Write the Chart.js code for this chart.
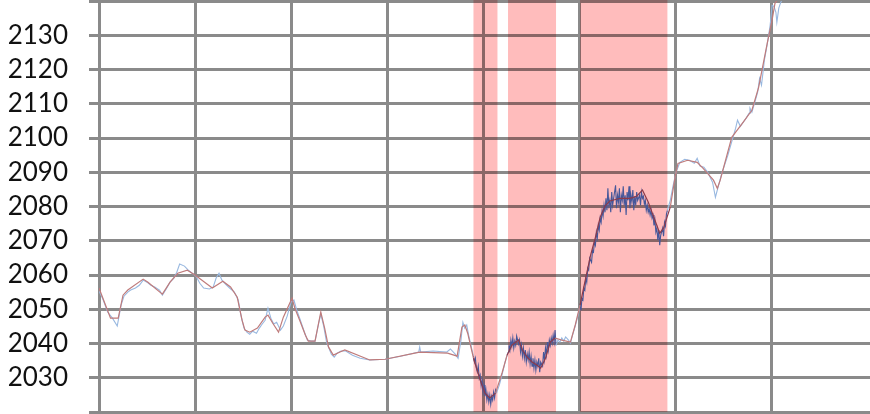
<!DOCTYPE html>
<html><head><meta charset="utf-8">
<script src="https://cdn.jsdelivr.net/npm/chart.js@4"></script>
<style>html,body{margin:0;padding:0;background:#fff;overflow:hidden}#wrap{width:870px;height:414px;position:relative}</style>
</head><body><div id="wrap"><canvas id="c" width="870" height="414"></canvas></div>
<script>
// y tick labels
const yTicks = [2030, 2040, 2050, 2060, 2070, 2080, 2090, 2100, 2110, 2120, 2130];
// x grid positions (time units)
const xTicks = [0, 100, 200, 300, 400, 500, 600, 700];

// smooth (red) series
const redX = [0,12,20,25,30,46,51,66,74,82,92,100,118,129,137,144,149,152,157,165,173,176,181,187,192,201,204,209,215,218,225,231,235,239,244,251,256,282,298,334,363,373,378,381,384,390,394,397,402,407,413,420,425,430,437,441,446,451,456,460,465,470,475,482,491,496,501,506,512,517,522,527,532,543,553,560,566,572,579,584,588,595,600,603,613,623,629,640,644,647,659,670,680,687,696,701,704,712,720];
const redY = [2056.2,2047.4,2047.4,2054.1,2055.6,2058.8,2057.9,2054.4,2057.9,2060.5,2061.4,2060.0,2056.2,2058.2,2056.5,2053.5,2046.8,2043.9,2043.3,2044.5,2047.7,2048.3,2045.9,2043.3,2047.7,2053.2,2050.3,2046.8,2042.4,2040.7,2040.7,2049.2,2044.5,2039.0,2036.6,2037.5,2038.1,2035.2,2035.4,2037.5,2037.2,2036.3,2044.8,2045.4,2043.0,2035.7,2032.2,2029.3,2025.5,2024.1,2025.5,2031.6,2036.6,2039.5,2041.0,2038.1,2036.0,2034.6,2033.7,2032.8,2035.7,2040.4,2041.6,2041.0,2040.4,2045.4,2051.2,2057.9,2065.8,2071.0,2076.9,2080.1,2081.6,2082.4,2082.4,2083.0,2084.8,2081.3,2076.0,2072.2,2073.7,2079.8,2088.6,2092.6,2093.5,2092.9,2091.2,2087.7,2085.3,2087.7,2100.2,2104.3,2108.1,2114.8,2127.7,2134.4,2139.3,2142.5,2146.0];

// noisy (blue) series
const blueX = [
0,4,9,14,19,23,26,30,33,38,42,46,50,54,58,63,66,70,74,78,81,84,89,93,97,101,105,109,115,119,122,125,128,132,136,141,145,148,151,154,157,160,164,167,170,173,176,179,182,185,189,192,196,200,203,206,209,214,217,221,225,229,231,234,237,242,245,248,252,257,264,272,282,298,314,333,334,335,348,362,366,371,374,377,379,381,383,385,389,
390,391,392,393,394,395,396,397,398,399,400,401,402,403,404,405,406,407,408,409,410,411,412,413,414,
417,420,423,426,
427,428,429,430,431,432,433,434,435,437,438,439,440,441,442,443,444,445,446,447,448,449,450,451,452,453,454,455,456,457,458,459,460,462,463,464,465,466,467,468,469,470,471,472,473,474,475,476,
478,480,482,484,486,489,491,493,496,499,
501,502,503,504,505,506,507,508,509,510,511,513,514,515,516,517,518,519,520,521,522,523,524,525,526,527,528,529,530,531,532,533,534,535,536,538,539,540,541,542,543,544,545,546,547,548,549,550,551,552,553,554,555,556,557,558,559,560,561,563,564,565,566,567,568,569,570,571,572,573,574,575,576,577,578,579,580,581,582,583,584,585,587,588,589,590,591,592,
595,598,601,605,610,615,620,623,626,630,634,639,642,645,649,655,660,663,665,668,671,674,677,678,680,683,686,688,690,693,696,699,701,703,705,706,708,710,713,716,720];
const blueY = [
2055.3,2053.0,2049.2,2047.4,2045.1,2051.2,2053.8,2055.0,2055.6,2056.2,2057.0,2058.5,2057.9,2057.0,2056.5,2055.6,2054.1,2055.9,2057.9,2059.1,2060.8,2063.2,2062.6,2061.4,2060.5,2059.7,2057.6,2056.2,2055.9,2056.5,2059.1,2060.5,2058.5,2057.3,2056.2,2055.0,2052.7,2048.0,2044.5,2043.3,2042.7,2043.6,2043.0,2044.5,2045.7,2046.8,2050.3,2047.4,2045.7,2046.2,2043.9,2045.1,2048.0,2052.1,2052.7,2049.7,2047.4,2043.3,2041.0,2040.7,2040.7,2046.2,2048.6,2045.1,2040.4,2036.9,2036.0,2037.2,2037.8,2037.8,2036.6,2035.7,2035.2,2035.4,2036.3,2037.5,2039.0,2037.5,2037.8,2037.5,2038.4,2036.9,2035.7,2041.0,2046.2,2044.5,2045.4,2042.4,2037.5,
2036.3,2034.6,2035.7,2032.8,2031.7,2033.4,2029.9,2030.8,2027.6,2029.3,2025.8,2027.9,2024.6,2026.4,2023.5,2025.2,2022.9,2024.9,2022.3,2024.6,2023.5,2025.8,2024.1,2026.4,2025.5,
2027.9,2031.1,2034.6,2037.5,
2039.5,2038.1,2041.0,2039.2,2041.6,2038.7,2040.7,2039.5,2042.2,2039.8,2041.0,2037.5,2039.5,2036.3,2038.7,2035.7,2038.1,2034.6,2036.9,2035.2,2037.5,2034.0,2036.3,2033.4,2035.7,2032.8,2035.2,2032.2,2034.6,2033.4,2035.7,2031.6,2034.6,2033.4,2037.5,2035.2,2038.7,2036.6,2040.4,2038.1,2041.0,2039.5,2041.6,2040.1,2042.4,2040.4,2043.9,2039.5,
2041.0,2040.4,2041.6,2040.7,2041.9,2041.0,2040.1,2042.2,2045.1,2048.3,
2051.2,2049.7,2053.2,2052.7,2056.2,2055.6,2059.1,2057.9,2062.0,2061.4,2064.9,
2063.7,2067.2,2066.7,2069.6,2068.7,2072.5,2070.8,2074.5,2073.1,2076.6,2075.4,2078.9,2077.2,2080.4,2078.3,2082.4,2078.9,2085.3,2080.4,2081.8,2078.3,2084.2,2080.4,2082.4,
2086.2,2079.5,2083.3,2081.3,2085.3,2078.3,2083.3,2081.8,2085.9,2080.4,2083.3,2077.5,2084.2,2081.8,2085.9,2079.5,2083.3,2081.3,2084.8,2078.9,2083.0,2080.4,2084.2,2081.8,
2083.3,2080.4,2084.2,2082.4,2083.0,2080.7,2081.8,2078.9,2080.4,2078.3,2079.5,2077.5,2078.9,2076.6,2077.5,2074.5,2076.0,2072.5,2073.7,2070.2,2073.1,2068.7,2071.6,
2073.7,2071.3,2075.4,2074.3,2077.8,2078.9,
2081.8,2086.2,2090.0,2092.9,2093.8,2093.5,2092.6,2094.1,2091.8,2091.5,2090.0,2087.1,2082.7,2085.9,2090.0,2095.0,2099.9,2102.8,2105.2,2103.4,2104.6,2105.8,2107.2,2108.7,2107.5,2110.4,2113.4,2117.4,2115.4,2122.7,2127.4,2132.9,2138.7,2138.4,2136.7,2133.8,2137.9,2139.6,2141.1,2143.1,2145.5];

// shaded periods
const bandStart = [390, 426, 501];
const bandEnd   = [415, 476, 592];

const GRID = '#8a8a8a';
const inBand = v => bandStart.some((s, i) => v >= s && v <= bandEnd[i]);
const mid = c => (c.p0.parsed.x + c.p1.parsed.x) / 2;

const bandPlugin = {
  id: 'bands',
  beforeDatasetsDraw(chart) {
    const { ctx, chartArea: a, scales: { x } } = chart;
    ctx.save();
    ctx.globalCompositeOperation = 'multiply';
    ctx.fillStyle = 'rgb(255,188,188)';
    bandStart.forEach((s, i) => {
      const x0 = x.getPixelForValue(s), x1 = x.getPixelForValue(bandEnd[i]);
      ctx.fillRect(x0, 0, x1 - x0, a.bottom);
    });
    ctx.restore();
  }
};

new Chart(document.getElementById('c'), {
  type: 'line',
  data: {
    datasets: [
      {
        data: redX.map((x, i) => ({ x, y: redY[i] })),
        borderColor: '#bf7b7b', borderWidth: 1.2, pointRadius: 0, tension: 0,
        segment: { borderColor: c => inBand(mid(c)) ? '#8c3a4a' : '#bf7b7b' }
      },
      {
        data: blueX.map((x, i) => ({ x, y: blueY[i] })),
        borderColor: '#98b8e0', borderWidth: 1.1, pointRadius: 0, tension: 0,
        segment: { borderColor: c => inBand(mid(c)) ? '#46579a' : '#98b8e0' }
      }
    ]
  },
  options: {
    responsive: false, animation: false, devicePixelRatio: 1,
    layout: { padding: { top: 1, bottom: 2, left: 0, right: 0 } },
    plugins: { legend: { display: false }, tooltip: { enabled: false } },
    scales: {
      x: {
        type: 'linear', min: 0, max: 803,
        afterBuildTicks: s => { s.ticks = xTicks.map(v => ({ value: v })); },
        ticks: { display: false, autoSkip: false },
        grid: { color: GRID, lineWidth: 3, drawTicks: false },
        border: { display: false }
      },
      y: {
        min: 2020, max: 2140,
        afterBuildTicks: s => { s.ticks = [2020, ...yTicks, 2140].map(v => ({ value: v })); },
        ticks: {
          autoSkip: false,
          callback: v => yTicks.includes(v) ? String(v) : '',
          font: { family: 'Lato', size: 26 }, color: '#111111', padding: 21
        },
        grid: { color: GRID, lineWidth: 3, tickLength: 10 },
        border: { display: true, color: GRID, width: 3 },
        afterFit: s => { s.width = 99; s.paddingTop = 0; s.paddingBottom = 0; }
      }
    }
  },
  plugins: [bandPlugin]
});
</script>
</body></html>
